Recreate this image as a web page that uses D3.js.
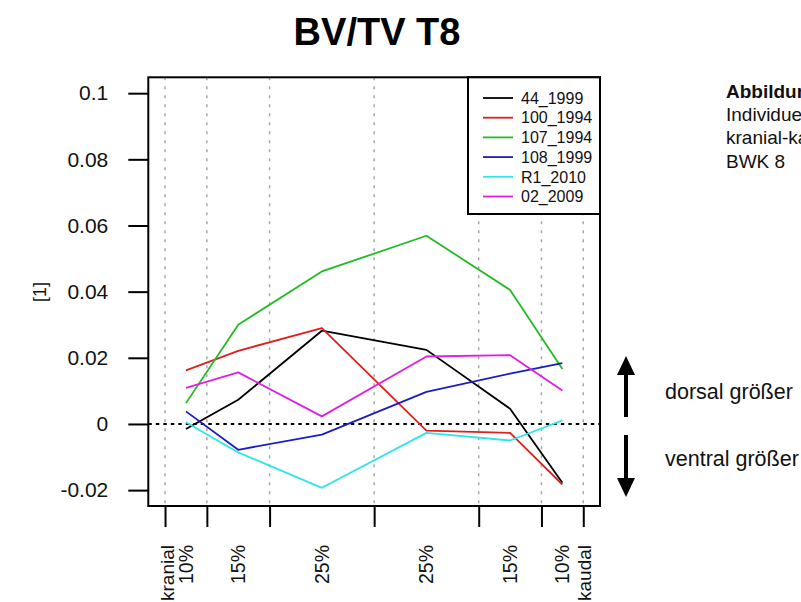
<!DOCTYPE html>
<html>
<head>
<meta charset="utf-8">
<script src="https://cdn.jsdelivr.net/npm/d3@7"></script>
<style>
  html, body { margin: 0; padding: 0; background: #fff; }
  svg { display: block; font-family: "Liberation Sans", Arial, Helvetica, sans-serif; }
</style>
</head>
<body>
<svg id="chart" width="801" height="602"></svg>
<script>
// Segment boundaries along the vertebra (cumulative %), and the segment centres
const boundaries = [0, 10, 25, 50, 75, 90, 100];
const positions = [5, 17.5, 37.5, 62.5, 82.5, 95];
const segmentLabels = ["10%", "15%", "25%", "25%", "15%", "10%"];
const endLabels = ["kranial", "kaudal"];

const yTicks = [-0.02, 0, 0.02, 0.04, 0.06, 0.08, 0.1];
const yTickLabels = ["-0.02", "0", "0.02", "0.04", "0.06", "0.08", "0.1"];

const seriesNames = ["44_1999", "100_1994", "107_1994", "108_1999", "R1_2010", "02_2009"];
const seriesColors = ["#000000", "#e01e1e", "#22bb22", "#1c1cc4", "#2ee6e6", "#e020e0"];

const s44_1999  = [-0.0015, 0.0073, 0.0282, 0.0224, 0.0046, -0.0178];
const s100_1994 = [0.0162, 0.0221, 0.0290, -0.0020, -0.0027, -0.0183];
const s107_1994 = [0.0063, 0.0300, 0.0461, 0.0569, 0.0405, 0.0166];
const s108_1999 = [0.0038, -0.0078, -0.0032, 0.0097, 0.0152, 0.0184];
const sR1_2010  = [0.0005, -0.0086, -0.0193, -0.0027, -0.0050, 0.0011];
const s02_2009  = [0.0109, 0.0156, 0.0023, 0.0204, 0.0208, 0.0101];

const seriesValues = [s44_1999, s100_1994, s107_1994, s108_1999, sR1_2010, s02_2009];

const svg = d3.select("#chart");

const box = { left: 148.3, right: 600, top: 77.3, bottom: 506 };

const x = d3.scaleLinear().domain([-4, 104]).range([box.left, box.right]);
const y = d3.scaleLinear().domain([-0.0248, 0.1048]).range([box.bottom, box.top]);

// Title
svg.append("text")
  .attr("x", 377).attr("y", 45)
  .attr("text-anchor", "middle")
  .attr("font-size", 38).attr("font-weight", "bold")
  .text("BV/TV T8");

// Vertical dotted guides at the segment boundaries
svg.append("g").selectAll("line").data(boundaries).join("line")
  .attr("x1", d => x(d)).attr("x2", d => x(d))
  .attr("y1", box.top).attr("y2", box.bottom)
  .attr("stroke", "#a8a8a8").attr("stroke-width", 1.5)
  .attr("stroke-dasharray", "3,6");

// Zero reference line
svg.append("line")
  .attr("x1", box.left).attr("x2", box.right)
  .attr("y1", y(0)).attr("y2", y(0))
  .attr("stroke", "#000").attr("stroke-width", 2)
  .attr("stroke-dasharray", "3.5,4");

// Series lines
const line = d3.line().x((d, i) => x(positions[i])).y(d => y(d));
svg.append("g").selectAll("path").data(seriesValues).join("path")
  .attr("d", d => line(d))
  .attr("fill", "none")
  .attr("stroke", (d, i) => seriesColors[i])
  .attr("stroke-width", 1.8)
  .attr("stroke-linejoin", "round");

// Plot frame
svg.append("rect")
  .attr("x", box.left).attr("y", box.top)
  .attr("width", box.right - box.left).attr("height", box.bottom - box.top)
  .attr("fill", "none").attr("stroke", "#000").attr("stroke-width", 2);

// Y axis
const yAxis = d3.axisLeft(y)
  .tickValues(yTicks)
  .tickSize(20)
  .tickPadding(20)
  .tickFormat((d, i) => yTickLabels[i]);
const gy = svg.append("g").attr("transform", `translate(${box.left},0)`).call(yAxis);
gy.select(".domain").remove();
gy.selectAll(".tick line").attr("stroke", "#000").attr("stroke-width", 2);
gy.selectAll(".tick text").attr("font-size", 21).attr("fill", "#111")
  .attr("font-family", "Liberation Sans, Arial, sans-serif");

// X axis: tick marks at boundaries
const xAxis = d3.axisBottom(x).tickValues(boundaries).tickSize(21).tickFormat("");
const gx = svg.append("g").attr("transform", `translate(0,${box.bottom})`).call(xAxis);
gx.select(".domain").remove();
gx.selectAll(".tick line").attr("stroke", "#000").attr("stroke-width", 2);

// Segment labels (vertical)
const labelTop = 545;
svg.append("g").selectAll("text").data(positions).join("text")
  .attr("transform", d => `translate(${x(d)},${labelTop}) rotate(-90)`)
  .attr("dy", "0.36em")
  .attr("text-anchor", "end")
  .attr("font-size", 19.5).attr("fill", "#111")
  .text((d, i) => segmentLabels[i]);

// End labels at the outer boundaries
svg.append("g").selectAll("text").data([0, 100]).join("text")
  .attr("transform", (d, i) => `translate(${x(d) + (i === 0 ? 2 : 1)},${labelTop}) rotate(-90)`)
  .attr("dy", "0.36em")
  .attr("text-anchor", "end")
  .attr("font-size", 19).attr("fill", "#111")
  .text((d, i) => endLabels[i]);

// Y axis title
svg.append("text")
  .attr("transform", `translate(40,292) rotate(-90)`)
  .attr("dy", "0.35em")
  .attr("text-anchor", "middle")
  .attr("font-size", 18).attr("fill", "#111")
  .text("[1]");

// Legend
const legend = svg.append("g");
legend.append("rect")
  .attr("x", 468).attr("y", box.top)
  .attr("width", box.right - 468).attr("height", 214 - box.top)
  .attr("fill", "#fff").attr("stroke", "#000").attr("stroke-width", 2);
const legendRows = legend.selectAll("g.row").data(seriesNames).join("g")
  .attr("class", "row")
  .attr("transform", (d, i) => `translate(0,${98 + i * 19.7})`);
legendRows.append("line")
  .attr("x1", 483).attr("x2", 513)
  .attr("stroke", (d, i) => seriesColors[i]).attr("stroke-width", 1.8);
legendRows.append("text")
  .attr("x", 521).attr("dy", "0.36em")
  .attr("font-size", 16).attr("fill", "#111")
  .text(d => d);

// Caption at the right edge
const caption = svg.append("g").attr("font-size", 19).attr("fill", "#111");
caption.append("text").attr("x", 726).attr("y", 98).attr("font-weight", "bold").text("Abbildung");
caption.append("text").attr("x", 726).attr("y", 121).text("Individuelle");
caption.append("text").attr("x", 726).attr("y", 144).text("kranial-kaudal");
caption.append("text").attr("x", 726).attr("y", 168).text("BWK 8");

// Direction arrows
function arrow(xc, yTail, yTip) {
  const dir = yTip < yTail ? -1 : 1;
  const headLen = 19, headHalf = 9;
  const yBase = yTip - dir * headLen;
  svg.append("line")
    .attr("x1", xc).attr("x2", xc).attr("y1", yTail).attr("y2", yBase)
    .attr("stroke", "#000").attr("stroke-width", 4);
  svg.append("path")
    .attr("d", `M${xc},${yTip} L${xc - headHalf},${yBase} L${xc + headHalf},${yBase} Z`)
    .attr("fill", "#000");
}
arrow(626, 417, 356);
arrow(626, 435, 497);

svg.append("text").attr("x", 665).attr("y", 399)
  .attr("font-size", 21.5).attr("fill", "#111").text("dorsal größer");
svg.append("text").attr("x", 665).attr("y", 466)
  .attr("font-size", 21.5).attr("fill", "#111").text("ventral größer");
</script>
</body>
</html>
